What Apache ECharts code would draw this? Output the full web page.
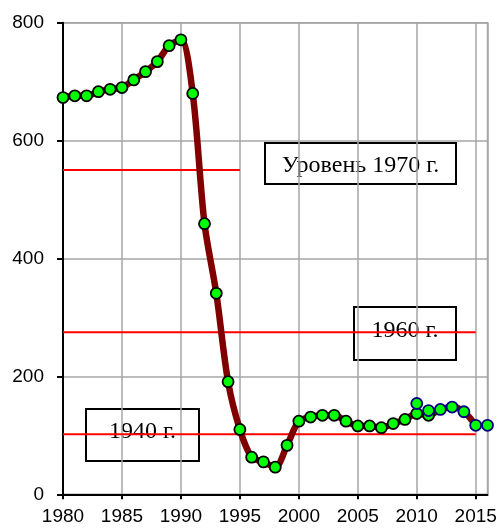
<!DOCTYPE html>
<html>
<head>
<meta charset="utf-8">
<script src="https://cdn.jsdelivr.net/npm/echarts@6/dist/echarts.min.js"></script>
<style>
  html, body { margin: 0; padding: 0; background: #fff; }
  #chart { width: 501px; height: 529px; }
</style>
</head>
<body>
<div id="chart"></div>
<script>
// Annual values, 1980–2011 (first series)
const yearsMain = [1980,1981,1982,1983,1984,1985,1986,1987,1988,1989,1990,1991,1992,1993,1994,1995,
  1996,1997,1998,1999,2000,2001,2002,2003,2004,2005,2006,2007,2008,2009,2010,2011];
const valuesMain = [673,676,676,683,687,690,703,717,734,761,771,680,459,341,191,110,
  63,55,46,83,124,131,134,134,124,116,116,113,120,127,137,134];

// Revised series, 2010–2016
const yearsNew = [2010,2011,2012,2013,2014,2015,2016];
const valuesNew = [154,142,144,148,140,117,117];

// Reference levels
const level1970 = { from: 1980, to: 1995, value: 550 };
const level1960 = { from: 1980, to: 2015, value: 275 };
const level1940 = { from: 1980, to: 2015, value: 102 };

const yTicks = [0, 200, 400, 600, 800];
const xTickStep = 5;

const labelFont = 'Liberation Sans, Arial, sans-serif';
const serifFont = 'Liberation Serif, Times New Roman, serif';

// Curve: the first series through 2011, then the revised values up to 2015
const curve = yearsMain.map((y, i) => [y, valuesMain[i]]);
yearsNew.forEach((y, i) => { if (y > 2011 && y <= 2015) curve.push([y, valuesNew[i]]); });

function levelLine(lv) {
  return {
    type: 'line',
    data: [[lv.from, lv.value], [lv.to, lv.value]],
    showSymbol: false,
    lineStyle: { color: '#ff0000', width: 2 },
    silent: true,
    z: 2
  };
}

// White caption box with a black frame
function noteBox(left, top, w, h, textY, text) {
  return {
    type: 'group', left: left, top: top, z: 20,
    children: [
      { type: 'rect', shape: { x: 0, y: 0, width: w, height: h },
        style: { fill: '#fff', stroke: '#000', lineWidth: 2 } },
      { type: 'text', x: w / 2, y: textY,
        style: { text: text, font: '24px ' + serifFont, fill: '#000',
                 align: 'center', verticalAlign: 'middle' } }
    ]
  };
}

const chart = echarts.init(document.getElementById('chart'), null, { renderer: 'canvas' });

chart.setOption({
  animation: false,
  backgroundColor: '#ffffff',
  grid: {
    left: 63, right: 13.5, top: 22.7, bottom: 34.7,
    show: true, borderColor: '#a6a6a6', borderWidth: 1.5
  },
  xAxis: {
    type: 'value',
    min: 1980, max: 2016, interval: xTickStep,
    axisLine: { show: true, lineStyle: { color: '#000', width: 2 } },
    axisTick: { show: true, length: 5, lineStyle: { color: '#000', width: 2 } },
    axisLabel: {
      color: '#000', fontFamily: labelFont, fontSize: 19, margin: 13,
      showMaxLabel: false,
      formatter: v => String(v)
    },
    splitLine: { show: true, lineStyle: { color: '#a6a6a6', width: 1.5 } }
  },
  yAxis: {
    type: 'value',
    min: yTicks[0], max: yTicks[yTicks.length - 1], interval: 200,
    axisLine: { show: true, lineStyle: { color: '#000', width: 2 } },
    axisTick: { show: true, length: 6, lineStyle: { color: '#000', width: 2 } },
    axisLabel: { color: '#000', fontFamily: labelFont, fontSize: 19, margin: 19, align: 'right' },
    splitLine: { show: true, lineStyle: { color: '#a6a6a6', width: 1.5 } }
  },
  series: [
    levelLine(level1970),
    levelLine(level1960),
    levelLine(level1940),
    {
      type: 'line',
      data: curve,
      smooth: 0.3,
      showSymbol: false,
      lineStyle: { color: '#800000', width: 6.5 },
      z: 3
    },
    {
      type: 'scatter',
      data: yearsMain.map((y, i) => [y, valuesMain[i]]),
      symbolSize: 11,
      itemStyle: { color: '#00ff00', borderColor: '#000000', borderWidth: 1.8, opacity: 1 },
      z: 4
    },
    {
      type: 'scatter',
      data: yearsNew.map((y, i) => [y, valuesNew[i]]),
      symbolSize: 11,
      itemStyle: { color: '#00ff00', borderColor: '#000080', borderWidth: 1.8, opacity: 1 },
      z: 5
    }
  ],
  graphic: [
    noteBox(264, 142, 191, 41, 23, 'Уровень 1970 г.'),
    noteBox(353, 306, 102, 53, 24, '1960 г.'),
    noteBox(85, 408, 113, 52, 23, '1940 г.')
  ]
});
</script>
</body>
</html>
